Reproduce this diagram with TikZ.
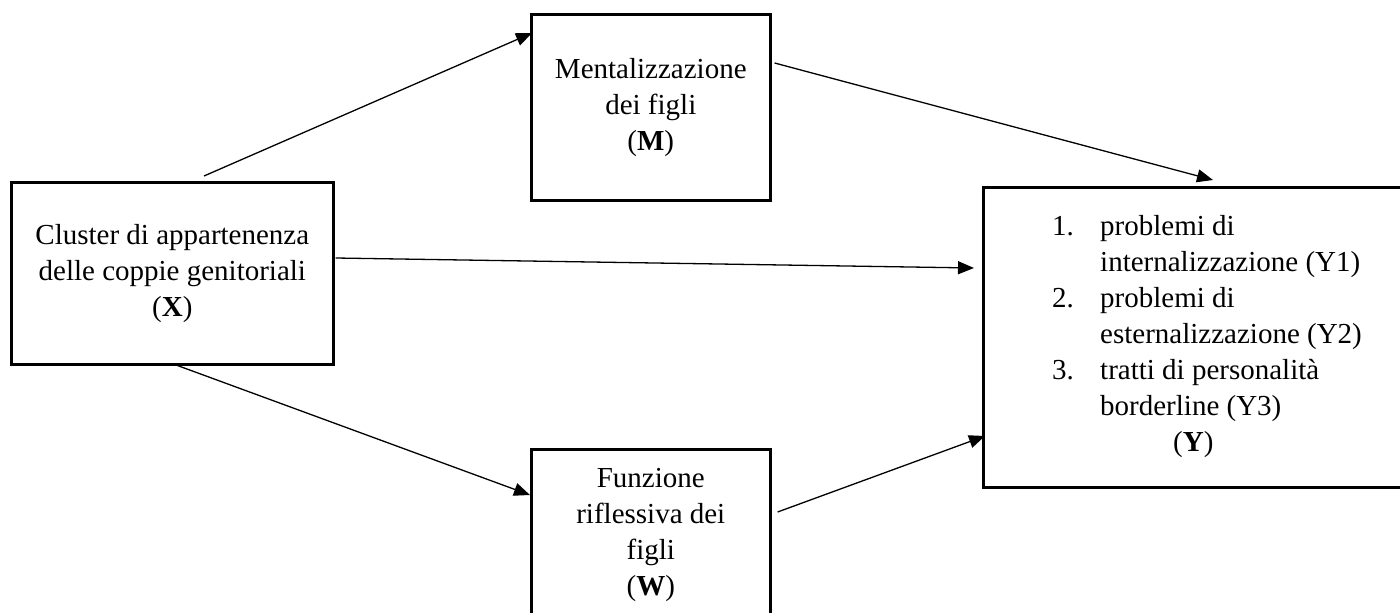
\documentclass[tikz,border=0pt]{standalone}
\usepackage{fontspec}
\setmainfont{Liberation Serif}
\usetikzlibrary{arrows.meta}
\tikzset{
  box/.style={draw=black, line width=2.6pt, fill=white, align=center, inner sep=0pt,
    font=\fontsize{29}{36}\selectfont, anchor=north west},
  link/.style={draw=black, line width=1.3pt, -{Triangle[length=16pt,width=13pt]}},
}
\begin{document}
\begin{tikzpicture}[x=1pt,y=-1pt]
\useasboundingbox (0,0) rectangle (1400,613);
\clip (0,0) rectangle (1400,613);
\fill[white] (0,0) rectangle (1400,613);
\node[box, minimum width=322pt, minimum height=182pt] (X) at (10,181)
  {Cluster di appartenenza\\delle coppie genitoriali\\(\textbf{X})};
\node[box, minimum width=239pt, minimum height=186pt] (M) at (530,13)
  {Mentalizzazione\\dei figli\\(\textbf{M})};
\node[box, minimum width=239pt, minimum height=172pt] (W) at (530,448)
  {Funzione\\riflessiva dei\\figli\\(\textbf{W})};
\node[box, minimum width=420pt, minimum height=300pt] (Y) at (982,186) {};
\node[anchor=north west, inner sep=0pt, font=\fontsize{29}{36}\selectfont] (Ytext) at (1052,210)
  {\begin{tabular}{@{}p{48pt}@{}l@{}}
   1. & problemi di\\
      & internalizzazione (Y1)\\
   2. & problemi di\\
      & esternalizzazione (Y2)\\
   3. & tratti di personalità\\
      & borderline (Y3)\\
      & \hspace{73pt}(\textbf{Y})
   \end{tabular}};
\draw[link] ([shift={(194,-5)}]X.north west) -- ([shift={(2,20)}]M.north west);
\draw[link] ([shift={(3,50)}]M.north east) -- ([shift={(231,-6)}]Y.north west);
\draw[link] ([shift={(1,77)}]X.north east) -- ([shift={(-8,82)}]Y.north west);
\draw[link] ([shift={(165,-1)}]X.south west) -- ([shift={(0,47)}]W.north west);
\draw[link] ([shift={(6,64)}]W.north east) -- ([shift={(3,250)}]Y.north west);
\end{tikzpicture}
\end{document}
